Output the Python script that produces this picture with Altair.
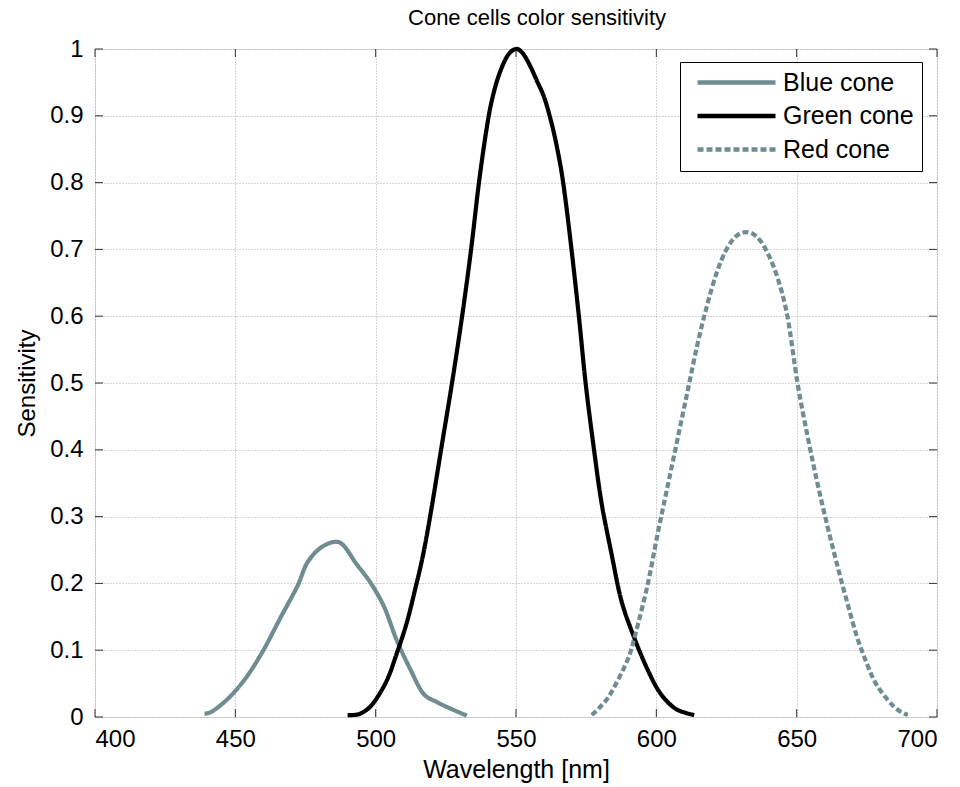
import altair as alt
import pandas as pd

# ---- data ----
blue_nm = [439, 442, 448, 454, 460, 466, 472, 475.5, 480, 485, 488.5, 493, 498, 503,
           507.5, 512.5, 517, 522, 527, 532.5]
blue_val = [0.005, 0.009, 0.03, 0.06, 0.1, 0.148, 0.195, 0.23, 0.252, 0.262, 0.257, 0.23,
            0.202, 0.165, 0.115, 0.07, 0.035, 0.022, 0.012, 0.002]

green_nm = [490, 494.5, 499, 504, 507.5, 511, 514, 517, 520, 523.3, 527.2, 530.8, 534, 536.8,
            539.5, 541.5, 544, 547, 550, 552.5, 555, 557.5, 560, 562.3, 564.5, 566.8, 569.5,
            572.4, 574.8, 577.8, 580.5, 584, 587.5, 592, 597, 601.5, 607, 613.5]
green_val = [0.003, 0.005, 0.02, 0.055, 0.095, 0.14, 0.19, 0.245, 0.315, 0.4, 0.5, 0.6, 0.7,
             0.8, 0.88, 0.925, 0.962, 0.99, 1.0, 0.993, 0.975, 0.952, 0.928, 0.895, 0.855, 0.8,
             0.71, 0.6, 0.5, 0.4, 0.32, 0.245, 0.175, 0.12, 0.07, 0.035, 0.012, 0.003]

red_nm = [577, 580, 583.7, 589.7, 592.6, 597, 600.5, 604, 607.5, 611, 614.5, 618, 621.5, 625,
          628.5, 632, 635.5, 639, 643, 646.7, 650.3, 653.9, 657.4, 661, 664.6, 668.1, 671.5,
          675, 678.5, 683.6, 687, 689.6]
red_val = [0.003, 0.015, 0.035, 0.085, 0.125, 0.2, 0.275, 0.345, 0.415, 0.485, 0.555, 0.615,
           0.665, 0.7, 0.72, 0.726, 0.72, 0.7, 0.66, 0.6, 0.5, 0.42, 0.35, 0.285, 0.225, 0.17,
           0.12, 0.08, 0.048, 0.02, 0.008, 0.003]

series_names = ["Blue cone", "Green cone", "Red cone"]
x_ticks = [400, 450, 500, 550, 600, 650, 700]
y_ticks = [0, 0.1, 0.2, 0.3, 0.4, 0.5, 0.6, 0.7, 0.8, 0.9, 1]

W, H = 842, 668
FONT = "Liberation Sans"
TEAL = "#6f8c91"

rows = []
for name, xs, ys in zip(series_names, [blue_nm, green_nm, red_nm], [blue_val, green_val, red_val]):
    for x, y in zip(xs, ys):
        rows.append({"series": name, "nm": x, "val": y})
df = pd.DataFrame(rows)

xscale = alt.Scale(domain=[400, 700], nice=False, zero=False)
yscale = alt.Scale(domain=[0, 1], nice=False)


def make_legend():
    return alt.Legend(title=None, orient="none", legendX=585, legendY=13,
                      symbolType="M-0.3,0H7.5", symbolSize=400,
                      symbolStrokeWidth=4.5, labelFont=FONT,
                      labelFontSize=25, labelColor="black",
                      labelOffset=70, rowPadding=7.5, padding=8,
                      strokeColor="black", fillColor="white",
                      cornerRadius=0, labelLimit=300)


lines = alt.Chart(df).mark_line(strokeWidth=4.2, interpolate="cardinal", tension=0).encode(
    x=alt.X("nm:Q", scale=xscale,
            axis=alt.Axis(title="Wavelength [nm]", values=x_ticks, format="d",
                          grid=True, gridDash=[1, 2], gridColor="#aaaaaa", gridWidth=1,
                          tickSize=0, labelPadding=10, labelFontSize=24, labelFont=FONT,
                          labelColor="black", titleFont=FONT, titleFontSize=25,
                          titleFontWeight="normal", titleColor="black", titlePadding=6,
                          domain=False)),
    y=alt.Y("val:Q", scale=yscale,
            axis=alt.Axis(title="Sensitivity", values=y_ticks,
                          labelExpr="datum.value == 0 ? '0' : datum.value == 1 ? '1' : format(datum.value, '.1f')",
                          grid=True, gridDash=[1, 2], gridColor="#aaaaaa", gridWidth=1,
                          tickSize=0, labelPadding=12, labelFontSize=24, labelFont=FONT,
                          labelColor="black", titleFont=FONT, titleFontSize=24,
                          titleFontWeight="normal", titleColor="black", titlePadding=10,
                          domain=False)),
    color=alt.Color("series:N",
                    scale=alt.Scale(domain=series_names, range=[TEAL, "black", TEAL]),
                    legend=make_legend()),
    strokeDash=alt.StrokeDash("series:N",
                              scale=alt.Scale(domain=series_names,
                                              range=[[1, 0], [1, 0], [6, 3]]),
                              legend=make_legend()),
)

xt = pd.DataFrame({"t": x_ticks})
yt = pd.DataFrame({"t": y_ticks})
TL = 8
tick_color = "#333333"
bottom_ticks = alt.Chart(xt).mark_rule(color=tick_color, strokeWidth=1).encode(
    x=alt.X("t:Q", scale=xscale), y=alt.value(H), y2=alt.value(H - TL))
top_ticks = alt.Chart(xt).mark_rule(color=tick_color, strokeWidth=1).encode(
    x=alt.X("t:Q", scale=xscale), y=alt.value(0), y2=alt.value(TL))
left_ticks = alt.Chart(yt).mark_rule(color=tick_color, strokeWidth=1).encode(
    y=alt.Y("t:Q", scale=yscale), x=alt.value(0), x2=alt.value(TL))
right_ticks = alt.Chart(yt).mark_rule(color=tick_color, strokeWidth=1).encode(
    y=alt.Y("t:Q", scale=yscale), x=alt.value(W), x2=alt.value(W - TL))

chart = alt.layer(bottom_ticks, top_ticks, left_ticks, right_ticks, lines).properties(
    width=W, height=H,
    title=alt.TitleParams("Cone cells color sensitivity", font=FONT, fontSize=22,
                          fontWeight="normal", color="black", offset=7, dx=21),
    autosize=alt.AutoSizeParams(type="none"),
    padding={"left": 95, "top": 49, "right": 23, "bottom": 70},
).configure_view(stroke="#444444", strokeWidth=1.5).configure(background="white")

chart.save("out.html", embed_options={"renderer": "svg", "actions": False})
